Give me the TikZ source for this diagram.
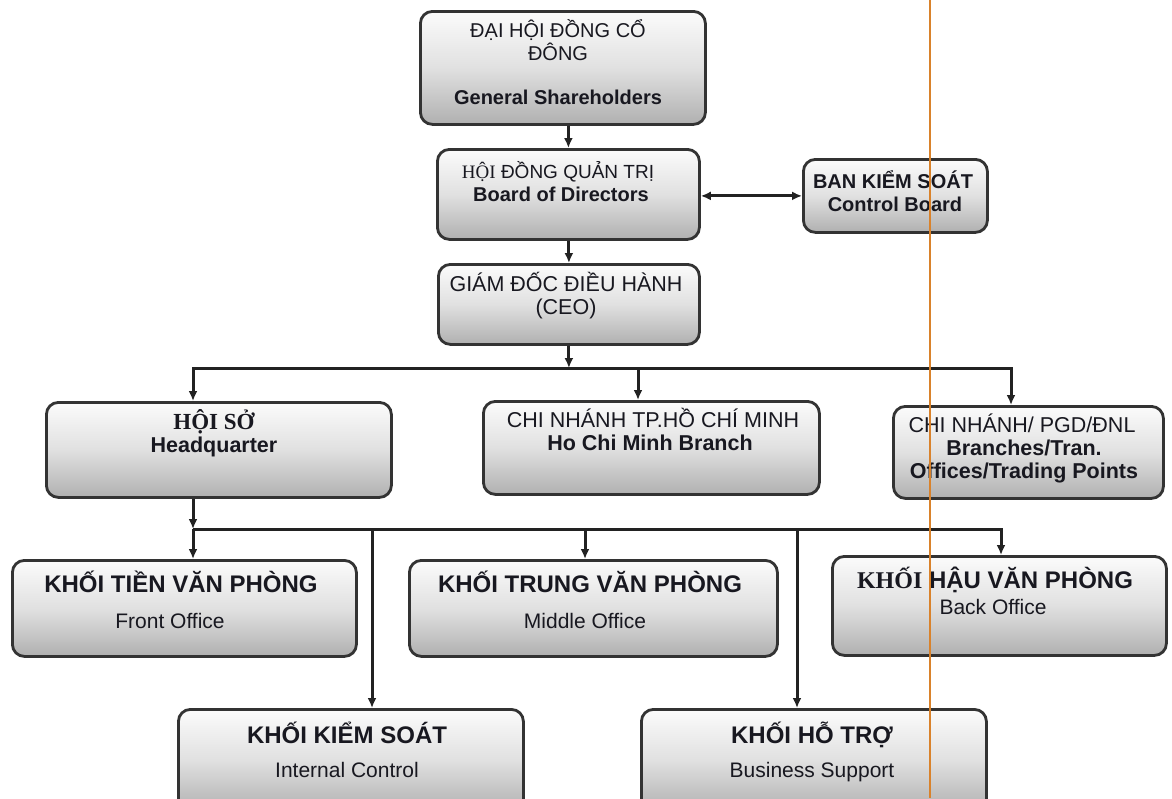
\documentclass[tikz,border=0pt]{standalone}
\usepackage{fontspec}
\setmainfont{Liberation Sans}
\newfontfamily\serifvn{Liberation Serif}
\usetikzlibrary{arrows.meta}
\definecolor{boxline}{HTML}{333333}
\definecolor{lineclr}{HTML}{222222}
\definecolor{guide}{HTML}{D9822B}
\definecolor{txtclr}{HTML}{181820}
\newcommand\fsT{\fontsize{20}{24}\selectfont}
\newcommand\fsR{\fontsize{21.5}{25}\selectfont}
\newcommand\fsH{\fontsize{24}{28}\selectfont}
\newcommand\fsS{\fontsize{21}{25}\selectfont}
\tikzset{
  boxst/.style={draw=boxline, line width=2.8pt, rounded corners=12pt,
    top color=gray!3, bottom color=gray!62, middle color=gray!24,
    anchor=north west, inner sep=0pt},
  txt/.style={anchor=base, inner sep=0pt, text=txtclr},
  rg/.style={txt, font=\fsT},
  bd/.style={txt, font=\fsT\bfseries},
  rgr/.style={txt, font=\fsR},
  bdr/.style={txt, font=\fsR\bfseries},
  hd/.style={txt, font=\fsH\bfseries},
  sb/.style={txt, font=\fsS},
  conn/.style={draw=lineclr, line width=3pt},
  arr/.style={conn, -{Latex[length=10pt,width=9pt]}},
  darr/.style={conn, {Latex[length=10pt,width=9pt]}-{Latex[length=10pt,width=9pt]}},
}
\begin{document}
\begin{tikzpicture}[x=1pt,y=-1pt]
\useasboundingbox[fill=white] (0,0) rectangle (1172,798);

% boxes
\node[boxst, minimum width=285pt, minimum height=113pt] (b1) at (419,10) {};
\node[boxst, minimum width=262pt, minimum height=90pt] (b2) at (436,148) {};
\node[boxst, minimum width=184pt, minimum height=73pt] (ctl) at (802,158) {};
\node[boxst, minimum width=261pt, minimum height=80pt] (ceo) at (437,263) {};
\node[boxst, minimum width=345pt, minimum height=95pt] (hq) at (45,401) {};
\node[boxst, minimum width=336pt, minimum height=93pt] (hcm) at (482,400) {};
\node[boxst, minimum width=270pt, minimum height=92pt] (br) at (892,405) {};
\node[boxst, minimum width=344pt, minimum height=96pt] (fo) at (11,559) {};
\node[boxst, minimum width=368pt, minimum height=96pt] (mo) at (408,559) {};
\node[boxst, minimum width=334pt, minimum height=99pt] (bo) at (831,555) {};
\node[boxst, minimum width=345pt, minimum height=102pt] (ic) at (177,708) {};
\node[boxst, minimum width=345pt, minimum height=102pt] (bs) at (640,708) {};

% texts
\node[rg] (t1a) at (558,37) {ĐẠI HỘI ĐỒNG CỔ};
\node[rg] (t1b) at (558,60) {ĐÔNG};
\node[bd] (t1c) at (558,104) {General Shareholders};
\node[rg, font=\fontsize{19}{23}\selectfont] (t2a) at (558,178) {{\serifvn HỘI} ĐỒNG QUẢN TRỊ};
\node[bd] (t2b) at (561,201) {Board of Directors};
\node[bd] (t3a) at (893,188) {BAN KIỂM SOÁT};
\node[bd] (t3b) at (895,211) {Control Board};
\node[rgr] (t4a) at (566,291) {GIÁM ĐỐC ĐIỀU HÀNH};
\node[rgr] (t4b) at (566,314) {(CEO)};
\node[bdr] (t5a) at (214,429) {\fontsize{23}{27}\selectfont\serifvn\bfseries HỘI SỞ};
\node[bdr] (t5b) at (214,452) {Headquarter};
\node[rgr] (t6a) at (653,427) {CHI NHÁNH TP.HỒ CHÍ MINH};
\node[bdr] (t6b) at (650,450) {Ho Chi Minh Branch};
\node[rgr] (t7a) at (1022,432) {CHI NHÁNH/ PGD/ĐNL};
\node[bdr] (t7b) at (1024,455) {Branches/Tran.};
\node[bdr] (t7c) at (1024,478) {Offices/Trading Points};
\node[hd] (t8a) at (181,592) {KHỐI TIỀN VĂN PHÒNG};
\node[sb] (t8b) at (170,628) {Front Office};
\node[hd] (t9a) at (590,592) {KHỐI TRUNG VĂN PHÒNG};
\node[sb] (t9b) at (585,628) {Middle Office};
\node[hd] (t10a) at (995,588) {{\serifvn\bfseries KHỐI} HẬU VĂN PHÒNG};
\node[sb] (t10b) at (993,614) {Back Office};
\node[hd] (t11a) at (347,743) {KHỐI KIỂM SOÁT};
\node[sb] (t11b) at (347,777) {Internal Control};
\node[hd] (t12a) at (812,743) {KHỐI HỖ TRỢ};
\node[sb] (t12b) at (812,777) {Business Support};

% junction coordinates
\coordinate (bus1L) at (193,368);
\coordinate (bus1M) at (638,368);
\coordinate (bus1R) at (1011,368);
\coordinate (bus2L) at (193,529);
\coordinate (bus2a) at (372,529);
\coordinate (bus2b) at (585,529);
\coordinate (bus2c) at (797,529);
\coordinate (bus2R) at (1001,529);

% connectors
\draw[arr] (b1.south -| b2.north) -- (b2.north);
\draw[darr] (b2.east |- ctl.west) -- (ctl.west);
\draw[arr] (b2.south -| ceo.north) -- (ceo.north);
\draw[arr] (ceo.south) -- (ceo.south |- bus1L);
\draw[arr] (bus1M) -- (bus1L) -- (bus1L |- hq.north);
\draw[arr] (bus1M) -- (bus1R) -- (bus1R |- br.north);
\draw[arr] (bus1M) -- (bus1M |- hcm.north);
\draw[arr] (bus2L |- hq.south) -- (bus2L);
\draw[arr] (bus2L) -- (bus2L |- fo.north);
\draw[arr] (bus2L) -- (bus2R) -- (bus2R |- bo.north);
\draw[arr] (bus2a) -- (bus2a |- ic.north);
\draw[arr] (bus2b) -- (bus2b |- mo.north);
\draw[arr] (bus2c) -- (bus2c |- bs.north);

% vertical guide line
\draw[guide, line width=1.6pt] (930,0) -- (930,798);
\end{tikzpicture}
\end{document}
